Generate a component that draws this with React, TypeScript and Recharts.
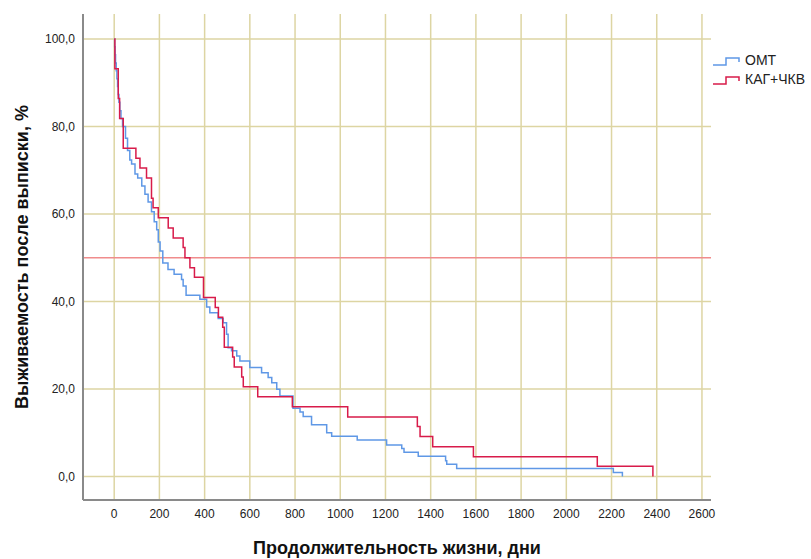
import React from 'react';
import { LineChart, Line, XAxis, YAxis, CartesianGrid, ReferenceLine } from 'recharts';

// ---------------------------------------------------------------------------
// Data (Kaplan-Meier steps: day of event, survival % after it)
// ---------------------------------------------------------------------------

const omtDays = [
  0, 2, 4, 6, 9, 12, 15, 18, 21, 25, 30, 37, 50, 59, 69, 77, 92, 104, 122, 136, 150, 165,
  177, 188, 195, 203, 215, 238, 265, 298, 305, 318, 379, 409, 423, 460, 482, 497, 504, 519,
  542, 556, 600, 652, 681, 697, 719, 733, 791, 822, 836, 873, 940, 962, 1075, 1205, 1272,
  1282, 1345, 1466, 1471, 1515, 2208, 2248,
];
const omtSurvival = [
  100, 98.2, 96.4, 94.5, 92.7, 90.9, 89.1, 87.3, 85.5, 83.6, 81.8, 80.0, 77.3, 74.5, 72.3,
  71.4, 69.1, 68.2, 66.4, 64.5, 62.7, 60.5, 58.2, 56.4, 53.6, 51.5, 48.8, 47.3, 46.2, 45.0,
  43.5, 41.4, 40.5, 38.7, 37.4, 36.1, 35.1, 32.5, 29.4, 28.7, 27.5, 26.4, 24.9, 23.7, 22.6,
  21.4, 19.9, 18.4, 15.6, 14.7, 13.7, 11.8, 10.0, 9.2, 8.3, 7.2, 6.4, 5.5, 4.6, 3.6, 2.8,
  1.8, 0.9, 0,
];

const pciDays = [
  0, 3, 18, 24, 40, 96, 114, 143, 165, 172, 195, 239, 261, 305, 313, 335, 355, 395, 447,
  461, 480, 487, 524, 531, 564, 571, 635, 788, 1033, 1341, 1353, 1409, 1589, 2137, 2383,
];
const pciSurvival = [
  100, 93.2, 86.4, 81.8, 75.0, 72.7, 70.5, 68.2, 63.6, 61.4, 59.1, 56.8, 54.5, 52.3, 50.0,
  47.7, 45.5, 40.9, 38.6, 36.4, 34.1, 29.5, 27.3, 25.0, 22.7, 20.5, 18.2, 15.9, 13.6, 11.4,
  9.1, 6.8, 4.5, 2.3, 0,
];

const xTicks = [0, 200, 400, 600, 800, 1000, 1200, 1400, 1600, 1800, 2000, 2200, 2400, 2600];
const yTicks = [0, 20, 40, 60, 80, 100];
const xDomain: [number, number] = [-138, 2640];
const yDomain: [number, number] = [-5.4, 105.7];

const seriesNames = ['ОМТ', 'КАГ+ЧКВ'];
const BLUE = '#5f98e6';
const RED = '#d81b4a';
const FONT = '"Liberation Sans", Arial, sans-serif';

const omt = omtDays.map((t, i) => ({ t, s: omtSurvival[i] }));
const pci = pciDays.map((t, i) => ({ t, s: pciSurvival[i] }));

// grid only at the tick values (no frame lines at the plot edges)
const gridY = ({ offset }: any) =>
  yTicks.map((v) => offset.top + ((yDomain[1] - v) / (yDomain[1] - yDomain[0])) * offset.height);
const gridX = ({ offset }: any) =>
  xTicks.map((v) => offset.left + ((v - xDomain[0]) / (xDomain[1] - xDomain[0])) * offset.width);

// ---------------------------------------------------------------------------
// Component
// ---------------------------------------------------------------------------

const StepIcon = ({ color }: { color: string }) => (
  <svg width={29} height={12} style={{ marginRight: 4 }}>
    <polyline
      points="1,10 14,10 14,3 27,3 27,7"
      fill="none"
      stroke={color}
      strokeWidth={1.5}
    />
  </svg>
);

export default function App() {
  return (
    <div style={{ position: 'absolute', left: 0, top: 0, width: 811, height: 559, background: '#fff', fontFamily: FONT }}>
      <LineChart
        width={811}
        height={559}
        margin={{ top: 14, right: 100, bottom: 29, left: 0 }}
      >
        <CartesianGrid
          stroke="#ddd5a3"
          strokeWidth={1.5}
          horizontalCoordinatesGenerator={gridY}
          verticalCoordinatesGenerator={gridX}
        />
        <XAxis
          dataKey="t"
          type="number"
          domain={xDomain}
          ticks={xTicks}
          interval={0}
          allowDataOverflow
          height={30}
          tickLine={false}
          tickMargin={3}
          axisLine={{ stroke: '#8a8a8a', strokeWidth: 2 }}
          tick={{ fill: '#222', fontSize: 12, fontFamily: FONT }}
        />
        <YAxis
          type="number"
          domain={yDomain}
          ticks={yTicks}
          interval={0}
          allowDataOverflow
          width={83}
          tickLine={false}
          axisLine={{ stroke: '#8a8a8a', strokeWidth: 2 }}
          tick={{ fill: '#222', fontSize: 12, fontFamily: FONT }}
          tickFormatter={(v: number) => v.toFixed(1).replace('.', ',')}
        />
        <ReferenceLine y={50} stroke="#f08c8c" strokeWidth={1.5} />
        <Line
          data={omt}
          dataKey="s"
          type="stepAfter"
          stroke={BLUE}
          strokeWidth={1.5}
          dot={false}
          isAnimationActive={false}
        />
        <Line
          data={pci}
          dataKey="s"
          type="stepAfter"
          stroke={RED}
          strokeWidth={1.5}
          dot={false}
          isAnimationActive={false}
        />
      </LineChart>

      <div style={{ position: 'absolute', left: 712, top: 51, fontSize: 14, color: '#222', lineHeight: '19px' }}>
        {seriesNames.map((name, i) => (
          <div key={name} style={{ display: 'flex', alignItems: 'center' }}>
            <StepIcon color={i === 0 ? BLUE : RED} />
            {name}
          </div>
        ))}
      </div>

      <div
        style={{
          position: 'absolute',
          left: 22,
          top: 257,
          transform: 'translate(-50%, -50%) rotate(-90deg)',
          whiteSpace: 'nowrap',
          fontSize: 18,
          fontWeight: 'bold',
          color: '#111',
        }}
      >
        Выживаемость после выписки, %
      </div>
      <div
        style={{
          position: 'absolute',
          left: 397,
          top: 548,
          transform: 'translate(-50%, -50%)',
          whiteSpace: 'nowrap',
          fontSize: 18,
          fontWeight: 'bold',
          color: '#111',
        }}
      >
        Продолжительность жизни, дни
      </div>
    </div>
  );
}
